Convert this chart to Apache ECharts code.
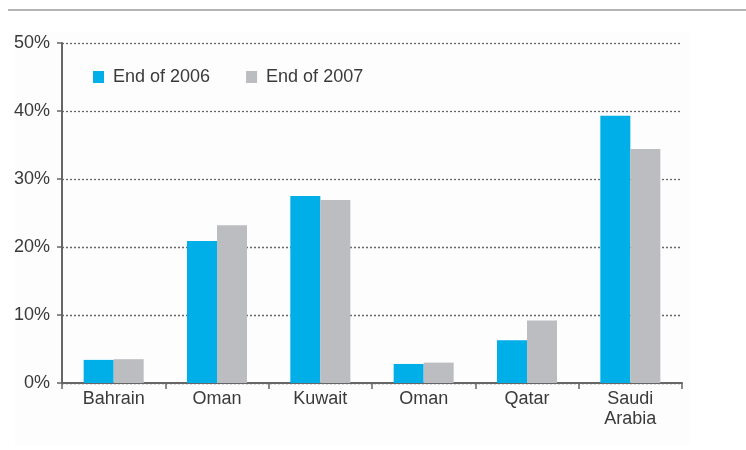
<!DOCTYPE html>
<html>
<head>
<meta charset="utf-8">
<script src="https://cdn.jsdelivr.net/npm/echarts@6/dist/echarts.min.js"></script>
<style>
  html, body { margin: 0; padding: 0; background: #fff; }
  #chart { width: 746px; height: 450px; }
</style>
</head>
<body>
<div id="chart"></div>
<script>
// data
var countries = ['Bahrain', 'Oman', 'Kuwait', 'Oman', 'Qatar', 'Saudi\nArabia'];
var end2006 = [3.4, 20.9, 27.5, 2.8, 6.3, 39.3];
var end2007 = [3.5, 23.2, 26.9, 3.0, 9.2, 34.4];
var seriesNames = ['End of 2006', 'End of 2007'];

var myChart = echarts.init(document.getElementById('chart'));

var option = {
  backgroundColor: '#ffffff',
  textStyle: { fontFamily: 'Liberation Sans, Arial, sans-serif' },
  graphic: [
    // thin rule at the top
    { type: 'line', shape: { x1: 8, y1: 10, x2: 746, y2: 10 },
      style: { stroke: '#9a9a9a', lineWidth: 1.5 }, z: 0 },
    // faint panel behind the chart
    { type: 'rect', shape: { x: 15, y: 32, width: 675, height: 413 },
      style: { fill: '#fdfdfd' }, z: -10, silent: true }
  ],
  legend: {
    data: seriesNames,
    left: 88,
    top: 63,
    itemWidth: 11,
    itemHeight: 12,
    itemGap: 36,
    icon: 'rect',
    textStyle: { fontSize: 18, color: '#3a3a3a', padding: [0, 0, 0, 4] }
  },
  grid: { left: 62, right: 64, top: 43, bottom: 67 },
  xAxis: {
    type: 'category',
    data: countries,
    axisLine: { lineStyle: { color: '#666', width: 2 } },
    axisTick: { show: true, length: 6, lineStyle: { color: '#666', width: 1.5 } },
    axisLabel: { fontSize: 18, color: '#3a3a3a', margin: 6, lineHeight: 20 }
  },
  yAxis: {
    type: 'value',
    min: 0,
    max: 50,
    interval: 10,
    axisLine: { show: true, lineStyle: { color: '#666', width: 2 } },
    axisTick: { show: true, length: 5, lineStyle: { color: '#666', width: 1.5 } },
    axisLabel: { fontSize: 18, color: '#3a3a3a', margin: 12, formatter: '{value}%' },
    splitLine: { lineStyle: { color: '#666', type: [2, 2], width: 1.3 } }
  },
  series: [
    {
      name: seriesNames[0],
      type: 'bar',
      data: end2006,
      barWidth: 30,
      barGap: '0%',
      itemStyle: { color: '#00aee8' }
    },
    {
      name: seriesNames[1],
      type: 'bar',
      data: end2007,
      barWidth: 30,
      barGap: '0%',
      itemStyle: { color: '#bcbdc0' }
    }
  ]
};

myChart.setOption(option);
</script>
</body>
</html>
